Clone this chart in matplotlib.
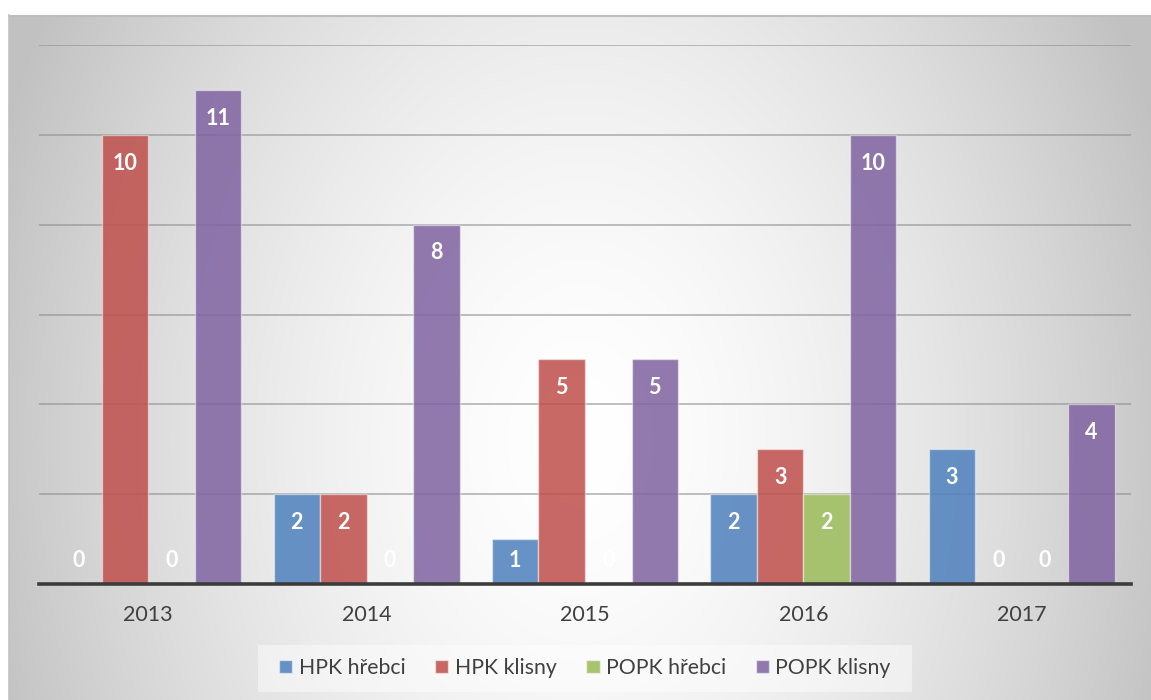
import numpy as np
import matplotlib
matplotlib.use("Agg")
import matplotlib.pyplot as plt
from matplotlib.patches import Patch, Rectangle

# =========================
# DATA
# =========================
roky = ["2013", "2014", "2015", "2016", "2017"]
serie = ["HPK hřebci", "HPK klisny", "POPK hřebci", "POPK klisny"]
hpk_hrebci = [0, 2, 1, 2, 3]
hpk_klisny = [10, 2, 5, 3, 0]
popk_hrebci = [0, 0, 0, 2, 0]
popk_klisny = [11, 8, 5, 10, 4]

hodnoty = [hpk_hrebci, hpk_klisny, popk_hrebci, popk_klisny]
barvy = ["#4F81BD", "#C0504D", "#9BBB59", "#8064A2"]

plt.rcParams["font.family"] = ["Lato", "DejaVu Sans"]

W, H = 1151, 700
fig = plt.figure(figsize=(W / 100, H / 100), dpi=100)
fig.patch.set_facecolor("white")

# =========================
# POZADI (radialni prechod)
# =========================
bg = fig.add_axes([0, 0, 1, 1])
yy, xx = np.mgrid[0:H, 0:W]
d = np.sqrt((xx - 580) ** 2 + ((yy - 440) / 1.4) ** 2)
val = 255 - 62 * np.clip(d / 620, 0, 1) ** 1.6
img = np.repeat((val / 255)[:, :, None], 3, axis=2)
img[:15, :, :] = 1.0
img[:, :9, :] = 1.0
bg.imshow(img, extent=[0, W, H, 0], aspect="auto", interpolation="bilinear")
bg.plot([9, W], [15.5, 15.5], color="#BDBDBD", lw=1.5)
bg.plot([9.5, 9.5], [15, H], color="#C2C2C2", lw=1.2)
bg.set_xlim(0, W)
bg.set_ylim(H, 0)
bg.axis("off")

# ramecek legendy
bg.add_patch(Rectangle((258, 645), 654, 47, facecolor="white", alpha=0.45,
                       edgecolor="none"))

# =========================
# GRAF
# =========================
ax = fig.add_axes([39 / W, (H - 584) / H, 1092 / W, 539 / H])
ax.patch.set_alpha(0)

x = np.arange(len(roky))
sirka = 0.213
for i, (nazev, vals, barva) in enumerate(zip(serie, hodnoty, barvy)):
    pos = x + (i - 1.5) * sirka
    rgba = matplotlib.colors.to_rgba(barva, 0.86)
    ax.bar(pos, vals, width=sirka, color=rgba, edgecolor=(1, 1, 1, 0.45),
           linewidth=1, zorder=2)
    for px, v in zip(pos, vals):
        ax.text(px, max(v - 0.63, 0.53), str(v), ha="center", va="center",
                color="white", fontsize=15.5, fontweight="bold", zorder=3)

ax.set_xlim(-0.5, 4.5)
ax.set_ylim(0, 12)
ax.set_yticks([2, 4, 6, 8, 10, 12])
ax.yaxis.grid(True, color="#8C8C8C", alpha=0.7, linewidth=1.1)
ax.set_axisbelow(True)
ax.tick_params(axis="y", length=0, labelleft=False)
ax.set_xticks(x)
ax.set_xticklabels(roky, fontsize=15.5, color="#404040")
ax.tick_params(axis="x", length=0, pad=15)
for s in ["top", "right", "left"]:
    ax.spines[s].set_visible(False)
ax.spines["bottom"].set_color("#3C3C3C")
ax.spines["bottom"].set_linewidth(2.6)
ax.spines["bottom"].set_zorder(4)

# =========================
# LEGENDA
# =========================
handles = [Patch(facecolor=matplotlib.colors.to_rgba(b, 0.86),
                 edgecolor=(1, 1, 1, 0.5), label=n)
           for n, b in zip(serie, barvy)]
fig.legend(handles=handles, loc="center", ncol=4,
           bbox_to_anchor=(585 / W, 1 - 668 / H), frameon=False,
           fontsize=15.3, labelcolor="#404040", handlelength=0.62,
           handleheight=0.62, handletextpad=0.3, columnspacing=1.4)

fig.savefig("out.png", dpi=100)
